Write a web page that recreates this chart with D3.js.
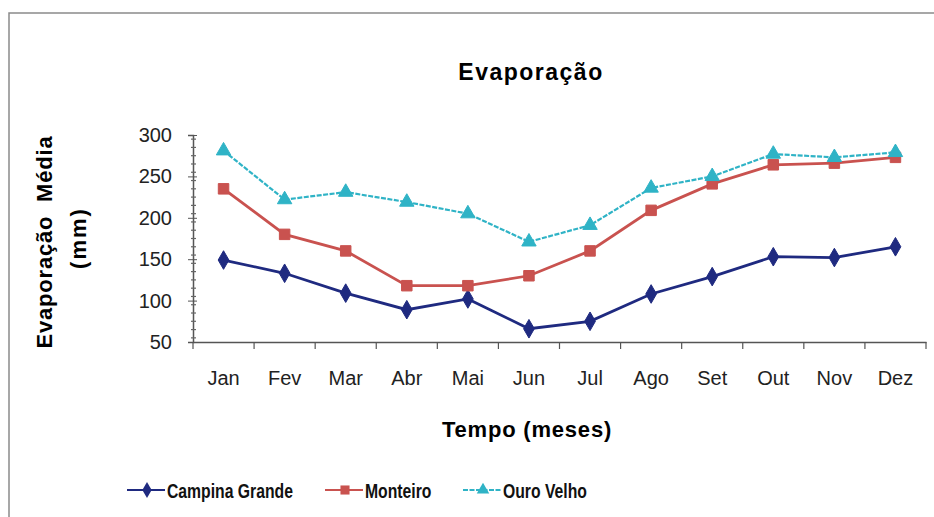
<!DOCTYPE html>
<html>
<head>
<meta charset="utf-8">
<script src="https://cdn.jsdelivr.net/npm/d3@7"></script>
<style>
  body { margin: 0; background: #fff; }
  svg { font-family: Arial, "Liberation Sans", sans-serif; }
</style>
</head>
<body>
<div id="chart"></div>
<script>
var months = ['Jan', 'Fev', 'Mar', 'Abr', 'Mai', 'Jun', 'Jul', 'Ago', 'Set', 'Out', 'Nov', 'Dez'];
var yTicks = [50, 100, 150, 200, 250, 300];
var campinaGrande = [149, 133, 109, 89, 102, 66, 75, 108, 129, 153, 152, 165];
var monteiro = [235, 180, 160, 118, 118, 130, 160, 209, 241, 264, 266, 273];
var ouroVelho = [281, 222, 231, 219, 205, 171, 191, 236, 250, 277, 273, 279];

var series = [
  {name: 'Campina Grande', values: campinaGrande, color: '#1f2a80', symbol: d3.symbolDiamond, size: 100, dash: null, width: 2.8},
  {name: 'Monteiro', values: monteiro, color: '#c9524f', symbol: d3.symbolSquare, size: 110, dash: null, width: 2.8},
  {name: 'Ouro Velho', values: ouroVelho, color: '#2fb3c6', symbol: d3.symbolTriangle, size: 90, dash: '5,1.5', width: 2.2}
];

var W = 934, H = 517;

var svg = d3.select('#chart').append('svg')
  .attr('width', W)
  .attr('height', H);

// frame (left + top only, like the scan)
svg.append('path')
  .attr('d', 'M9,517 L9,13 L934,13')
  .attr('fill', 'none')
  .attr('stroke', '#8a8a8a')
  .attr('stroke-width', 1.5);

var x = d3.scaleBand().domain(months).range([193, 926]),
    y = d3.scaleLinear().domain([50, 300]).range([342, 135]);

// title
svg.append('text')
  .attr('x', 531).attr('y', 80)
  .attr('text-anchor', 'middle')
  .style('font-size', '23px').style('font-weight', 'bold')
  .style('letter-spacing', '1.5px')
  .text('Evaporação');

// x axis: labels at centres, ticks on band edges
var xAxis = svg.append('g')
  .attr('transform', 'translate(0,342)')
  .call(d3.axisBottom(x).tickSize(0).tickPadding(43));
xAxis.select('.domain').attr('stroke', '#555').attr('stroke-width', 1.5);
xAxis.selectAll('text').style('font-size', '20px').attr('fill', '#222').attr('dy', '0');
xAxis.selectAll('.edge')
  .data(months.concat(['end']))
  .enter().append('line')
  .attr('class', 'edge')
  .attr('x1', function(d) { return d === 'end' ? x.range()[1] : x(d); })
  .attr('x2', function(d) { return d === 'end' ? x.range()[1] : x(d); })
  .attr('y1', 0).attr('y2', 7)
  .attr('stroke', '#555').attr('stroke-width', 1.2);

// y axis
var yAxis = svg.append('g')
  .attr('transform', 'translate(193,0)')
  .call(d3.axisLeft(y).tickValues(yTicks).tickSize(5).tickPadding(16));
yAxis.select('.domain').attr('stroke', '#555').attr('stroke-width', 1.5);
yAxis.selectAll('.tick line').attr('stroke', '#555').attr('x2', 4).attr('x1', -5);
yAxis.selectAll('text').style('font-size', '20px').attr('fill', '#222');
yAxis.selectAll('.minor')
  .data(d3.range(55, 300, 10))
  .enter().append('line')
  .attr('class', 'minor')
  .attr('x1', -2).attr('x2', 3)
  .attr('y1', function(d) { return y(d); })
  .attr('y2', function(d) { return y(d); })
  .attr('stroke', '#666').attr('stroke-width', 1.2);

// axis titles
svg.append('text')
  .attr('transform', 'translate(52,242) rotate(-90)')
  .attr('text-anchor', 'middle')
  .style('font-size', '22px').style('font-weight', 'bold')
  .style('letter-spacing', '0.8px')
  .style('white-space', 'pre')
  .text('Evaporação  Média');
svg.append('text')
  .attr('transform', 'translate(86,238) rotate(-90)')
  .attr('text-anchor', 'middle')
  .style('font-size', '22px').style('font-weight', 'bold')
  .style('letter-spacing', '2px')
  .text('(mm)');

svg.append('text')
  .attr('x', 527).attr('y', 437)
  .attr('text-anchor', 'middle')
  .style('font-size', '22px').style('font-weight', 'bold')
  .style('letter-spacing', '0.8px')
  .text('Tempo (meses)');

// lines and markers
var line = d3.line()
  .x(function(d, i) { return x(months[i]) + x.bandwidth() / 2; })
  .y(function(d) { return y(d); });

var g = svg.selectAll('.serie')
  .data(series)
  .enter().append('g')
  .attr('class', 'serie');

g.append('path')
  .attr('d', function(d) { return line(d.values); })
  .attr('fill', 'none')
  .attr('stroke', function(d) { return d.color; })
  .attr('stroke-width', function(d) { return d.width; })
  .attr('stroke-dasharray', function(d) { return d.dash; });

g.selectAll('.pt')
  .data(function(d) { return d.values.map(function(v, i) { return {v: v, i: i, s: d}; }); })
  .enter().append('path')
  .attr('class', 'pt')
  .attr('transform', function(d) { return 'translate(' + (x(months[d.i]) + x.bandwidth() / 2) + ',' + y(d.v) + ')'; })
  .attr('d', function(d) { return d3.symbol().type(d.s.symbol).size(d.s.size)(); })
  .attr('fill', function(d) { return d.s.color; })
  .attr('stroke', function(d) { return d.s.color; })
  .attr('stroke-width', 1);

// legend
var legendX = [127, 325, 463];
var leg = svg.selectAll('.leg')
  .data(series)
  .enter().append('g')
  .attr('class', 'leg')
  .attr('transform', function(d, i) { return 'translate(' + legendX[i] + ',490)'; });

leg.append('line')
  .attr('x1', 0).attr('x2', 38)
  .attr('stroke', function(d) { return d.color; })
  .attr('stroke-width', 2)
  .attr('stroke-dasharray', function(d) { return d.dash; });
leg.append('path')
  .attr('transform', 'translate(20,0)')
  .attr('d', function(d) { return d3.symbol().type(d.symbol).size(d.size * 0.75)(); })
  .attr('fill', function(d) { return d.color; });
leg.append('text')
  .attr('transform', 'translate(40,8) scale(0.75,1)')
  .style('font-size', '21px').style('font-weight', 'bold')
  .attr('fill', '#111')
  .text(function(d) { return d.name; });
</script>
</body>
</html>
